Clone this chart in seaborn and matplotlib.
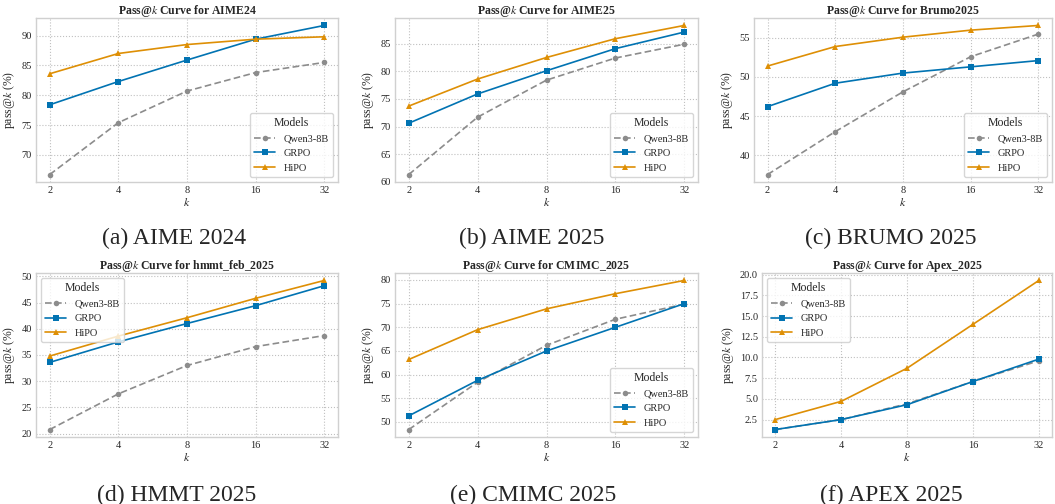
import matplotlib
matplotlib.use('Agg')
import matplotlib.pyplot as plt
from matplotlib.ticker import MultipleLocator
import seaborn as sns
import pandas as pd

# pass@k values
k_values = [2, 4, 8, 16, 32]
models = ['Qwen3-8B', 'GRPO', 'HiPO']

aime24 = {'Qwen3-8B': [66.7, 75.4, 80.7, 83.8, 85.5],
          'GRPO': [78.4, 82.3, 85.9, 89.4, 91.7],
          'HiPO': [83.6, 87.0, 88.5, 89.4, 89.8]}
aime25 = {'Qwen3-8B': [61.3, 71.7, 78.4, 82.4, 84.9],
          'GRPO': [70.6, 75.9, 80.1, 84.1, 87.1],
          'HiPO': [73.7, 78.6, 82.5, 85.9, 88.3]}
brumo25 = {'Qwen3-8B': [37.5, 43.0, 48.1, 52.6, 55.5],
           'GRPO': [46.2, 49.2, 50.5, 51.3, 52.1],
           'HiPO': [51.4, 53.9, 55.1, 56.0, 56.6]}
hmmt25 = {'Qwen3-8B': [20.8, 27.6, 33.0, 36.6, 38.7],
          'GRPO': [33.6, 37.5, 41.0, 44.4, 48.2],
          'HiPO': [34.8, 38.6, 42.1, 45.8, 49.2]}
cmimc25 = {'Qwen3-8B': [48.4, 58.4, 66.2, 71.7, 74.9],
           'GRPO': [51.3, 58.8, 65.0, 70.0, 75.0],
           'HiPO': [63.2, 69.5, 73.9, 77.1, 79.9]}
apex25 = {'Qwen3-8B': [1.3, 2.5, 4.4, 7.1, 9.6],
          'GRPO': [1.3, 2.5, 4.3, 7.1, 9.8],
          'HiPO': [2.5, 4.7, 8.7, 14.0, 19.3]}

panel_names = ['AIME24', 'AIME25', 'Brumo2025', 'hmmt_feb_2025', 'CMIMC_2025', 'Apex_2025']
captions = ['(a) AIME 2024', '(b) AIME 2025', '(c) BRUMO 2025',
            '(d) HMMT 2025', '(e) CMIMC 2025', '(f) APEX 2025']
panel_data = [aime24, aime25, brumo25, hmmt25, cmimc25, apex25]
legend_locs = ['lower right', 'lower right', 'lower right', 'upper left', 'lower right', 'upper left']
y_steps = [5, 5, 5, 5, 5, 2.5]

sns.set_theme(style='whitegrid')
plt.rcParams['font.family'] = ['Liberation Serif', 'DejaVu Serif']
plt.rcParams['mathtext.fontset'] = 'stix'

palette = {'Qwen3-8B': '#8c8c8c', 'GRPO': '#0173B2', 'HiPO': '#DE8F05'}
markers = {'Qwen3-8B': 'o', 'GRPO': 's', 'HiPO': '^'}
dashes = {'Qwen3-8B': (4, 2), 'GRPO': '', 'HiPO': ''}

W, H = 1055, 504
fig = plt.figure(figsize=(W / 100, H / 100), dpi=100)

# axes boxes in pixels: left, top, right, bottom
boxes = [(36, 18, 338, 182), (395, 18, 698, 182), (754, 18, 1052, 182),
         (36, 273, 338, 437), (395, 273, 698, 437), (762, 273, 1052, 437)]
cap_pos = [(174, 238), (532, 238), (891, 238), (177, 495), (533, 495), (891, 495)]

for i, (name, data) in enumerate(zip(panel_names, panel_data)):
    l, t, r, b = boxes[i]
    ax = fig.add_axes([l / W, 1 - b / H, (r - l) / W, (b - t) / H])
    rows = []
    for m in models:
        for k, v in zip(k_values, data[m]):
            rows.append({'k': k, 'pass': v, 'Model': m})
    df = pd.DataFrame(rows)
    sns.lineplot(data=df, x='k', y='pass', hue='Model', style='Model',
                 palette=palette, markers=markers, dashes=dashes,
                 markersize=4, linewidth=1.2, markeredgewidth=0, ax=ax)
    ax.set_xscale('log', base=2)
    ax.set_xticks(k_values)
    ax.set_xticklabels([str(k) for k in k_values])
    ax.minorticks_off()
    ax.yaxis.set_major_locator(MultipleLocator(y_steps[i]))
    ax.tick_params(labelsize=7.5, length=0, pad=3)
    ax.set_title(f'Pass@$k$ Curve for {name}', fontsize=8.5, fontweight='bold', pad=3)
    ax.set_xlabel('$k$', fontsize=8.5, labelpad=1)
    ax.set_ylabel('pass@$k$ (%)', fontsize=8.5, labelpad=3)
    ax.grid(True, linestyle=':', color='#c0c0c0', linewidth=0.8)
    for s in ax.spines.values():
        s.set_color('#d0d0d0')
        s.set_linewidth(1.0)
    ax.legend(title='Models', loc=legend_locs[i], fontsize=7.5, title_fontsize=8.5,
              frameon=True, handlelength=2.0)
    fig.text(cap_pos[i][0] / W, 1 - cap_pos[i][1] / H, captions[i],
             ha='center', va='center', fontsize=17)

fig.savefig('out.png', dpi=100)
